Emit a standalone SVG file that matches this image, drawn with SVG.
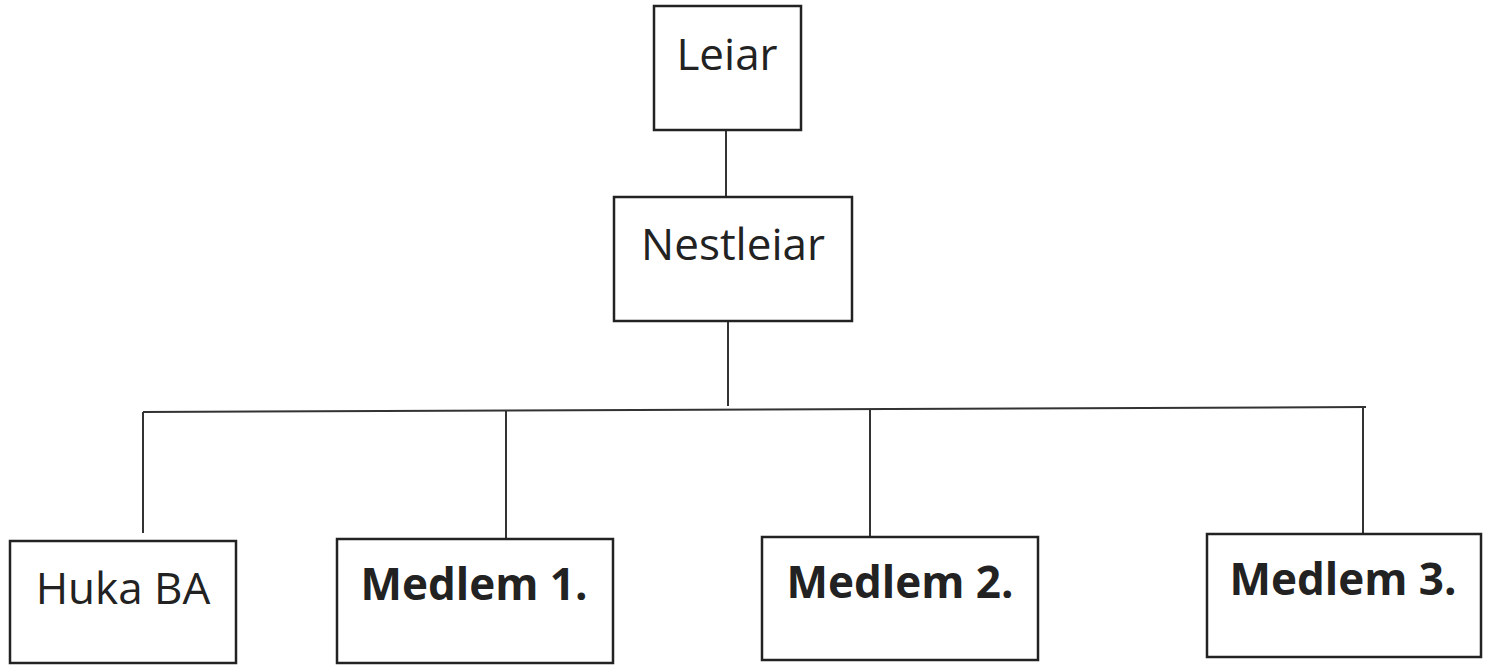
<svg xmlns="http://www.w3.org/2000/svg" width="1493" height="665" viewBox="0 0 1493 665">
<style>
.box{fill:#fff;stroke:#222;stroke-width:2.5}
.ln{fill:none;stroke:#333;stroke-width:2}
.t{font-family:"Open Sans","Liberation Sans",sans-serif;font-size:44px;font-weight:500;fill:#222;text-anchor:middle}
.b{font-weight:bold}
</style>
<rect width="1493" height="665" fill="#fff"/>
<g id="connectors">
<line class="ln" x1="726" y1="130" x2="726" y2="197"/>
<line class="ln" x1="728" y1="321" x2="728" y2="406"/>
<line class="ln" x1="143" y1="412" x2="1366" y2="407"/>
<line class="ln" x1="143" y1="412" x2="143" y2="533"/>
<line class="ln" x1="506" y1="411" x2="506" y2="539"/>
<line class="ln" x1="870" y1="409" x2="870" y2="537"/>
<line class="ln" x1="1363" y1="407" x2="1363" y2="534"/>
</g>
<g id="leiar">
<rect class="box" x="654" y="6" width="147" height="124"/>
<text class="t" x="727" y="70">Leiar</text>
</g>
<g id="nestleiar">
<rect class="box" x="614" y="197" width="238" height="124"/>
<text class="t" x="733" y="260">Nestleiar</text>
</g>
<g id="huka">
<rect class="box" x="10" y="541" width="226" height="122"/>
<text class="t" x="123" y="604">Huka BA</text>
</g>
<g id="medlem1">
<rect class="box" x="337" y="539" width="276" height="124"/>
<text class="t b" x="474" y="600">Medlem 1.</text>
</g>
<g id="medlem2">
<rect class="box" x="762" y="537" width="276" height="123"/>
<text class="t b" x="900" y="598">Medlem 2.</text>
</g>
<g id="medlem3">
<rect class="box" x="1207" y="534" width="274" height="123"/>
<text class="t b" x="1343" y="595">Medlem 3.</text>
</g>
</svg>
